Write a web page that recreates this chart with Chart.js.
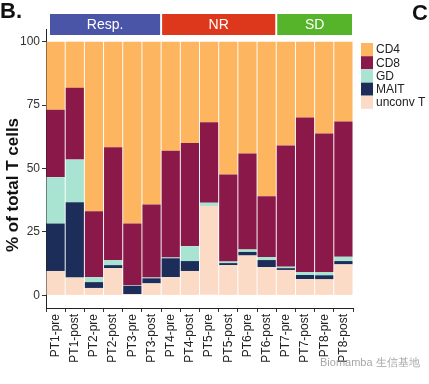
<!DOCTYPE html>
<html lang="en">
<head>
  <meta charset="UTF-8">
  <title>% of total T cells</title>
  <script src="https://cdn.jsdelivr.net/npm/chart.js"></script>
  <style>
    body { margin: 0; background: #fff; font-family: "Liberation Sans", Arial, sans-serif; }
    #wrap { position: relative; width: 429px; height: 384px; overflow: hidden; }
    .panel { position: absolute; font-weight: bold; font-size: 22px; color: #111; }
    .wm { position: absolute; left: 320px; top: 355px; font-size: 11px; color: rgba(150,150,150,0.85); white-space: nowrap; }
  </style>
</head>
<body>
  <div id="wrap">
    <canvas id="chart" width="429" height="384"></canvas>
    <div class="panel" style="left:0px; top:-2px;">B.</div>
    <div class="panel" style="left:412px; top:0px;">C</div>
    <div class="wm">Biomamba 生信基地</div>
  </div>

  <script>
    const samples = ['PT1-pre','PT1-post','PT2-pre','PT2-post','PT3-pre','PT3-post','PT4-pre','PT4-post',
                     'PT5-pre','PT5-post','PT6-pre','PT6-post','PT7-pre','PT7-post','PT8-pre','PT8-post'];
    const unconvT = [9.6, 7.0, 2.9, 10.7, 0.5, 4.7, 7.2, 9.6, 35.2, 11.9, 15.7, 11.1, 10.0, 6.4, 6.3, 12.2];
    const mait    = [18.7, 29.7, 2.3, 1.2, 3.2, 2.0, 7.4, 3.9, 0.0, 0.8, 1.4, 2.8, 0.7, 1.6, 1.6, 1.3];
    const gd      = [18.3, 16.8, 2.0, 1.9, 0.2, 0.3, 0.3, 5.9, 1.3, 0.6, 1.0, 1.2, 0.6, 1.2, 1.3, 1.7];
    const cd8     = [26.6, 28.3, 25.9, 44.6, 24.4, 28.8, 42.1, 40.7, 31.7, 34.3, 37.8, 24.0, 47.8, 60.9, 54.6, 53.3];
    const cd4     = [26.8, 18.2, 66.9, 41.6, 71.7, 64.2, 43.0, 39.9, 31.8, 52.4, 44.1, 60.9, 40.9, 29.9, 36.2, 31.5];
    const yTicks  = [0, 25, 50, 75, 100];

    // response groups over the sample index
    const groupNames = ['Resp.', 'NR', 'SD'];
    const groupStart = [0, 6, 12];
    const groupEnd   = [5, 11, 15];
    const groupColors = ['#4a55a7', '#dd381b', '#56b42b'];

    const stripPlugin = {
      id: 'strips',
      afterDraw(chart) {
        const ctx = chart.ctx;
        const x = chart.scales.x;
        const half = (x.getPixelForValue(1) - x.getPixelForValue(0)) / 2;
        ctx.save();
        groupNames.forEach((name, i) => {
          const x0 = x.getPixelForValue(groupStart[i]) - half + (i === 0 ? 4 : 1);
          const x1 = x.getPixelForValue(groupEnd[i]) + half - 1;
          ctx.fillStyle = groupColors[i];
          ctx.fillRect(x0, 14, x1 - x0, 21);
          ctx.fillStyle = '#fff';
          ctx.font = '14px "Liberation Sans", Arial, sans-serif';
          ctx.textAlign = 'center';
          ctx.textBaseline = 'middle';
          ctx.fillText(name, (x0 + x1) / 2, 25);
        });

        // y title
        ctx.save();
        ctx.translate(13, 185);
        ctx.rotate(-Math.PI / 2);
        ctx.fillStyle = '#111';
        ctx.font = 'bold 17px "Liberation Sans", Arial, sans-serif';
        ctx.fillText('% of total T cells', 0, 0);
        ctx.restore();

        // legend, top to bottom = top of stack first
        const ds = chart.data.datasets.slice().reverse();
        ds.forEach((d, i) => {
          const y = 43 + i * 13.2;
          ctx.fillStyle = d.backgroundColor;
          ctx.fillRect(361, y, 12, 13);
          ctx.fillStyle = '#222';
          ctx.font = '12px "Liberation Sans", Arial, sans-serif';
          ctx.textAlign = 'left';
          ctx.textBaseline = 'middle';
          ctx.fillText(d.label, 376, y + 7);
        });
        ctx.restore();
      }
    };

    const ctx = document.getElementById('chart').getContext('2d');
    new Chart(ctx, {
      type: 'bar',
      data: {
        labels: samples,
        datasets: [
          { label: 'unconv T', data: unconvT, backgroundColor: '#fbdac6' },
          { label: 'MAIT', data: mait, backgroundColor: '#1b2d58' },
          { label: 'GD', data: gd, backgroundColor: '#a9e4d2' },
          { label: 'CD8', data: cd8, backgroundColor: '#8a1849' },
          { label: 'CD4', data: cd4, backgroundColor: '#fdb55f' }
        ]
      },
      options: {
        responsive: false,
        animation: false,
        layout: { padding: { left: 0, right: 76, top: 29, bottom: 0 } },
        datasets: { bar: { categoryPercentage: 1, barPercentage: 0.95 } },
        plugins: { legend: { display: false }, tooltip: { enabled: false } },
        scales: {
          x: {
            stacked: true,
            afterFit(s) { s.height = 76; },
            grid: { display: true, drawOnChartArea: false, drawTicks: true, tickLength: 4, color: '#333' },
            border: { display: true, color: '#222', width: 1 },
            ticks: {
              minRotation: 90, maxRotation: 90, autoSkip: false, padding: 2,
              color: '#222', font: { size: 12, family: '"Liberation Sans", Arial, sans-serif' }
            }
          },
          y: {
            stacked: true,
            min: -5, max: 105,
            afterFit(s) { s.width = 46; },
            afterBuildTicks(s) { s.ticks = yTicks.map(v => ({ value: v })); },
            grid: { display: true, drawOnChartArea: false, drawTicks: true, tickLength: 4, color: '#333' },
            border: { display: true, color: '#222', width: 1 },
            ticks: {
              padding: 2,
              color: '#333', font: { size: 12, family: '"Liberation Sans", Arial, sans-serif' }
            }
          }
        }
      },
      plugins: [stripPlugin]
    });
  </script>
</body>
</html>
